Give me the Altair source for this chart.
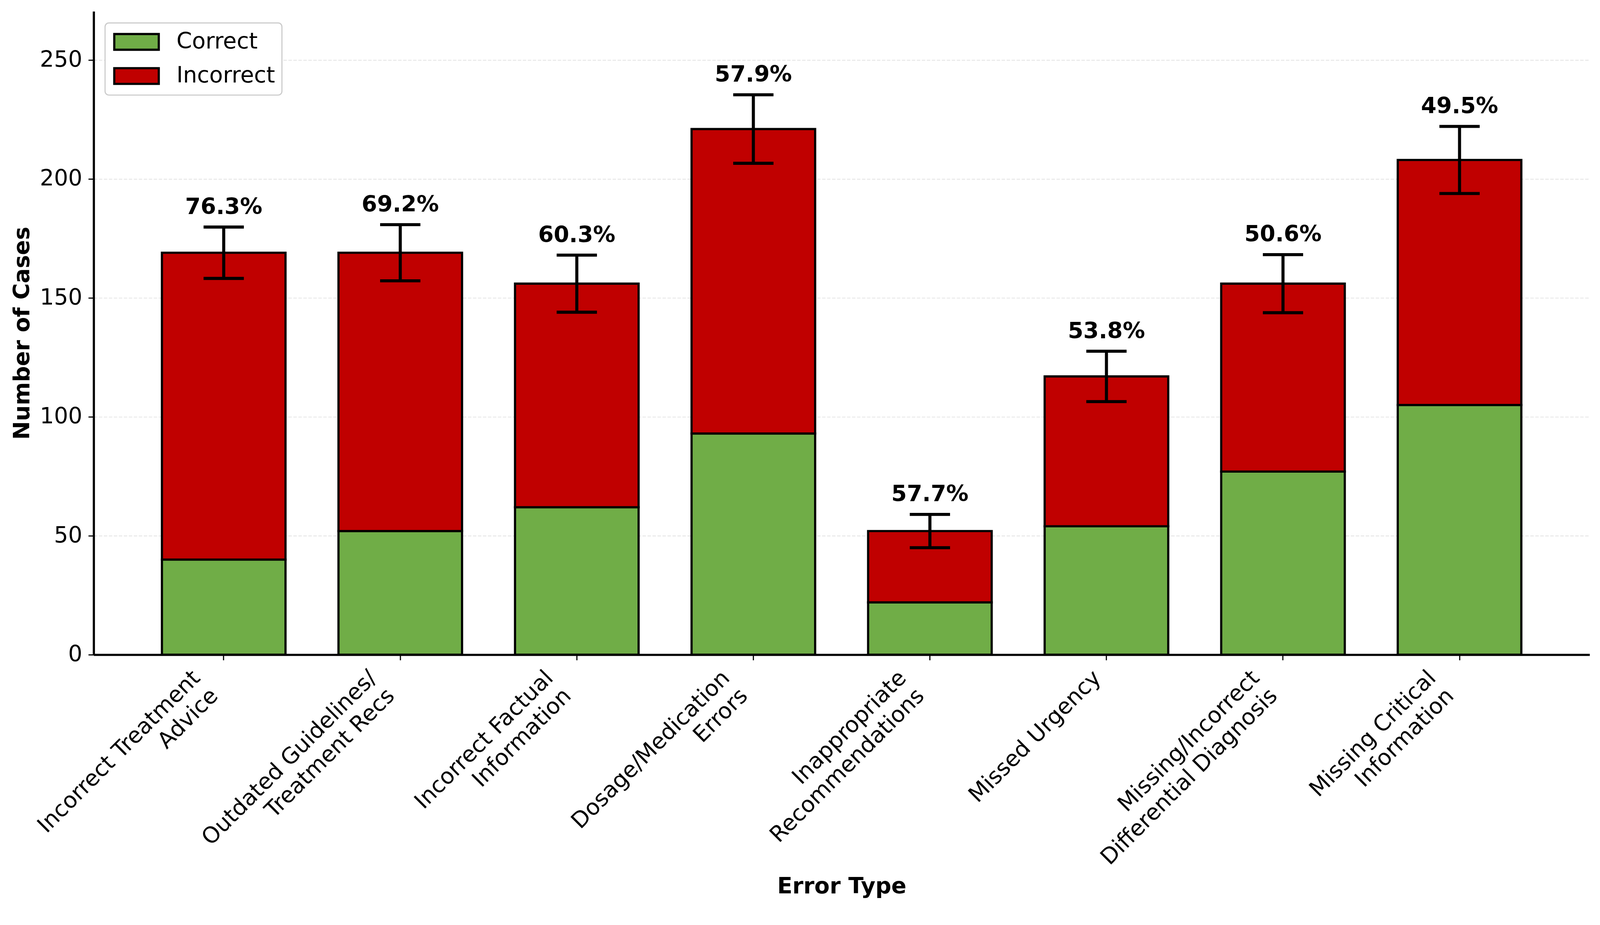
import altair as alt
import pandas as pd

categories = [
    "Incorrect Treatment\nAdvice",
    "Outdated Guidelines/\nTreatment Recs",
    "Incorrect Factual\nInformation",
    "Dosage/Medication\nErrors",
    "Inappropriate\nRecommendations",
    "Missed Urgency",
    "Missing/Incorrect\nDifferential Diagnosis",
    "Missing Critical\nInformation",
]
correct = [40, 52, 62, 93, 22, 54, 77, 105]
incorrect = [129, 117, 94, 128, 30, 63, 79, 103]
error = [10.8, 11.8, 12.0, 14.4, 7.0, 10.6, 12.2, 14.1]
pct_labels = ["76.3%", "69.2%", "60.3%", "57.9%", "57.7%", "53.8%", "50.6%", "49.5%"]
series = ["Correct", "Incorrect"]
colors = ["#70AD47", "#C00000"]
y_ticks = [0, 50, 100, 150, 200, 250]

FONT = "DejaVu Sans"

bar_rows = []
sum_rows = []
for i, c in enumerate(categories):
    tot = correct[i] + incorrect[i]
    bar_rows.append({"category": c, "kind": "Correct", "start": 0, "end": correct[i]})
    bar_rows.append({"category": c, "kind": "Incorrect", "start": correct[i], "end": tot})
    sum_rows.append({"category": c, "lo": tot - error[i], "hi": tot + error[i], "label": pct_labels[i]})
bars_df = pd.DataFrame(bar_rows)
sum_df = pd.DataFrame(sum_rows)

x_axis = alt.Axis(
    title="Error Type",
    labelExpr="split(datum.label, '\\n')",
    labelAngle=-45,
    labelAlign="right",
    labelBaseline="top",
    labelLineHeight=66,
    labelFontSize=58,
    labelFont=FONT,
    labelColor="black",
    labelPadding=17,
    labelOffset={"condition": {"test": "datum.value == 'Missed Urgency'", "value": -44}, "value": -91},
    labelLimit=3000,
    labelOverlap=False,
    labelBound=False,
    labelFlush=False,
    tickSize=14,
    tickWidth=3,
    tickColor="black",
    domainColor="black",
    domainWidth=5.7,
    grid=False,
    titleFont=FONT,
    titleFontSize=58,
    titleFontWeight="bold",
    titleColor="black",
    titleY=622,
    titleBaseline="alphabetic",
)
y_axis = alt.Axis(
    title="Number of Cases",
    values=y_ticks,
    labelFontSize=58,
    labelFont=FONT,
    labelColor="black",
    labelPadding=16,
    tickSize=14,
    tickWidth=3,
    tickColor="black",
    domainColor="black",
    domainWidth=5.7,
    grid=True,
    gridColor="#e2e2e2",
    gridWidth=2,
    gridDash=[9, 4],
    titleFont=FONT,
    titleFontSize=58,
    titleFontWeight="bold",
    titleColor="black",
    titleX=-168.6,
    titleBaseline="alphabetic",
)

x_enc = alt.X(
    "category:N",
    sort=categories,
    scale=alt.Scale(paddingInner=0.3, paddingOuter=0.3866),
    axis=x_axis,
)
y_scale = alt.Scale(domain=[0, 270.5], nice=False, zero=True)

bars = alt.Chart(bars_df).mark_bar(stroke="black", strokeWidth=5.7).encode(
    x=x_enc,
    y=alt.Y("start:Q", scale=y_scale, axis=y_axis),
    y2="end:Q",
    color=alt.Color(
        "kind:N",
        scale=alt.Scale(domain=series, range=colors),
        legend=alt.Legend(
            title=None,
            orient="none",
            legendX=29.7,
            legendY=30.3,
            symbolType="M-2,-0.706H2V0.706H-2Z",
            symbolSize=3364,
            symbolStrokeColor="black",
            symbolStrokeWidth=5.7,
            symbolOffset=32.6,
            labelFontSize=58,
            labelFont=FONT,
            labelColor="black",
            labelOffset=72,
            labelLimit=1000,
            fillColor="white",
            strokeColor="#cccccc",
            cornerRadius=10,
            padding=17.4,
            rowPadding=25,
        ),
    ),
)

err_line = alt.Chart(sum_df).mark_rule(color="black", strokeWidth=8).encode(
    x=x_enc,
    y=alt.Y("lo:Q", scale=y_scale, axis=y_axis),
    y2="hi:Q",
)
cap_hi = alt.Chart(sum_df).mark_tick(color="black", thickness=8, size=105, opacity=1).encode(
    x=x_enc,
    y=alt.Y("hi:Q", scale=y_scale, axis=y_axis),
)
cap_lo = alt.Chart(sum_df).mark_tick(color="black", thickness=8, size=105, opacity=1).encode(
    x=x_enc,
    y=alt.Y("lo:Q", scale=y_scale, axis=y_axis),
)
labels = alt.Chart(sum_df).mark_text(
    dy=-34, fontSize=58, fontWeight="bold", font=FONT, color="black",
    baseline="alphabetic", align="center",
).encode(
    x=x_enc,
    y=alt.Y("hi:Q", scale=y_scale, axis=y_axis),
    text="label:N",
)

chart = alt.layer(bars, err_line, cap_hi, cap_lo, labels).properties(
    width=3899,
    height=1677,
    padding={"left": 236, "top": 0, "right": 19, "bottom": 675},
    autosize=alt.AutoSizeParams(type="none"),
    background="white",
).configure(font=FONT).configure_view(stroke=None).configure_legend(strokeWidth=3)

chart.save("out.html", embed_options={"renderer": "svg", "actions": False})
